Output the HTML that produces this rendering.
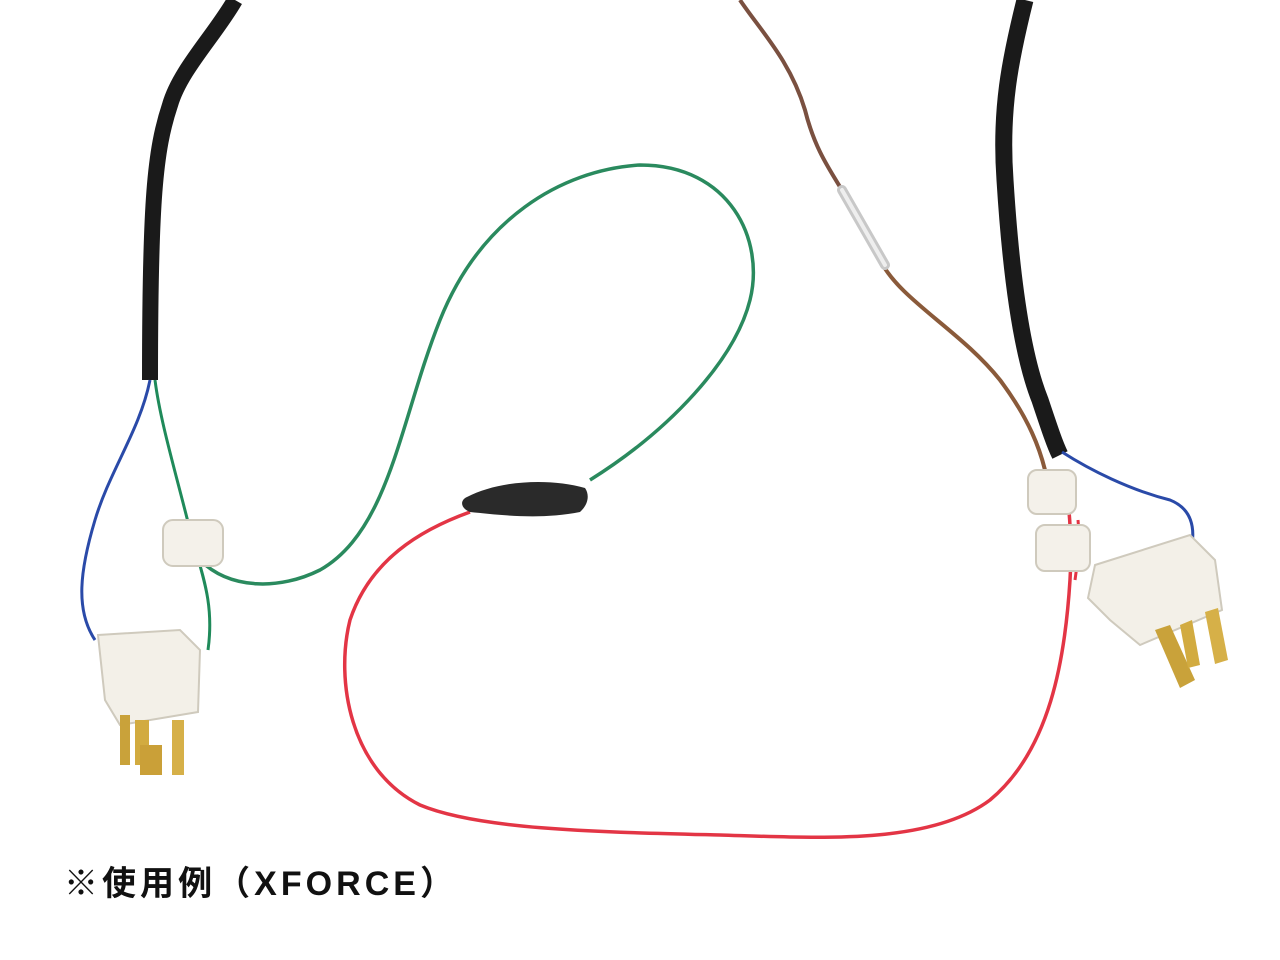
<!DOCTYPE html>
<html><head><meta charset="utf-8"><style>
html,body{margin:0;padding:0;background:#fff;}
svg{display:block}
</style></head><body>
<svg width="1280" height="960" viewBox="0 0 1280 960" xmlns="http://www.w3.org/2000/svg">
<rect width="1280" height="960" fill="#fff"/>
<path d="M740 0 C760 30 790 60 805 110 C815 150 830 170 845 195" stroke="#7a5040" stroke-width="4" fill="none"/>
<path d="M880 260 C900 300 960 330 1000 380 C1030 420 1040 450 1045 470" stroke="#8a5a3a" stroke-width="4" fill="none"/>
<path d="M842 190 L885 265" stroke="#c8c8c8" stroke-width="10" stroke-linecap="round"/>
<path d="M842 190 L885 265" stroke="#eee" stroke-width="4" stroke-linecap="round"/>
<path d="M235 0 C215 35 180 70 170 105 C155 150 150 200 150 380" stroke="#1a1a1a" stroke-width="16" fill="none"/>
<path d="M1025 0 C1010 60 1000 110 1005 180 C1010 260 1020 350 1040 400 C1050 430 1055 445 1060 455" stroke="#1a1a1a" stroke-width="17" fill="none"/>
<path d="M150 380 C140 430 110 470 95 520 C80 570 75 610 95 640" stroke="#2a4aa8" stroke-width="3" fill="none"/>
<path d="M155 380 C160 420 175 470 190 530 C200 570 215 600 208 650" stroke="#1f8a5a" stroke-width="3" fill="none"/>
<path d="M200 560 C230 590 280 590 320 570 C390 530 400 420 440 320 C480 220 560 170 640 165 C730 165 765 240 750 300 C735 360 670 430 590 480" stroke="#2a8a5e" stroke-width="3.5" fill="none"/>
<path d="M470 512 C420 530 370 560 350 620 C335 680 350 770 420 805 C480 830 600 832 720 835 C820 838 930 845 990 800 C1050 750 1065 660 1070 580 C1072 550 1070 520 1068 500" stroke="#e33545" stroke-width="3.5" fill="none"/>
<path d="M1078 520 C1080 540 1078 560 1075 580" stroke="#e33545" stroke-width="3" fill="none"/>
<path d="M467 497 C500 480 550 478 585 488 C590 495 588 505 580 512 C540 520 500 515 470 512 C460 508 460 500 467 497 Z" fill="#2a2a2a"/>
<path d="M1062 452 C1090 470 1130 490 1170 500 C1190 508 1195 525 1192 545" stroke="#2a4aa8" stroke-width="3" fill="none"/>
<rect x="163" y="520" width="60" height="46" rx="10" fill="#f4f1ea" stroke="#cfcabd" stroke-width="2"/>
<path d="M98 635 L180 630 L200 650 L198 712 L120 725 L105 700 Z" fill="#f3f0e8" stroke="#cfcabd" stroke-width="2"/>
<rect x="120" y="715" width="10" height="50" fill="#c9a23a"/>
<rect x="135" y="720" width="14" height="45" fill="#d2ab40"/>
<rect x="140" y="745" width="22" height="30" fill="#caa038"/>
<rect x="172" y="720" width="12" height="55" fill="#d6b048"/>
<rect x="1028" y="470" width="48" height="44" rx="9" fill="#f4f1ea" stroke="#cfcabd" stroke-width="2"/>
<rect x="1036" y="525" width="54" height="46" rx="9" fill="#f4f1ea" stroke="#cfcabd" stroke-width="2"/>
<path d="M1095 565 L1190 535 L1215 560 L1222 610 L1140 645 L1110 620 L1088 598 Z" fill="#f3f0e8" stroke="#cfcabd" stroke-width="2"/>
<path d="M1155 630 L1170 625 L1195 680 L1180 688 Z" fill="#c9a23a"/>
<path d="M1180 625 L1192 620 L1200 665 L1188 668 Z" fill="#d2ab40"/>
<path d="M1205 612 L1218 608 L1228 660 L1215 664 Z" fill="#d6b048"/>
<text x="64" y="895" textLength="390" lengthAdjust="spacing" font-family="'Liberation Sans','Noto Sans CJK JP',sans-serif" font-weight="bold" font-size="34" fill="#111">※使用例（XFORCE）</text>
</svg>
</body></html>
